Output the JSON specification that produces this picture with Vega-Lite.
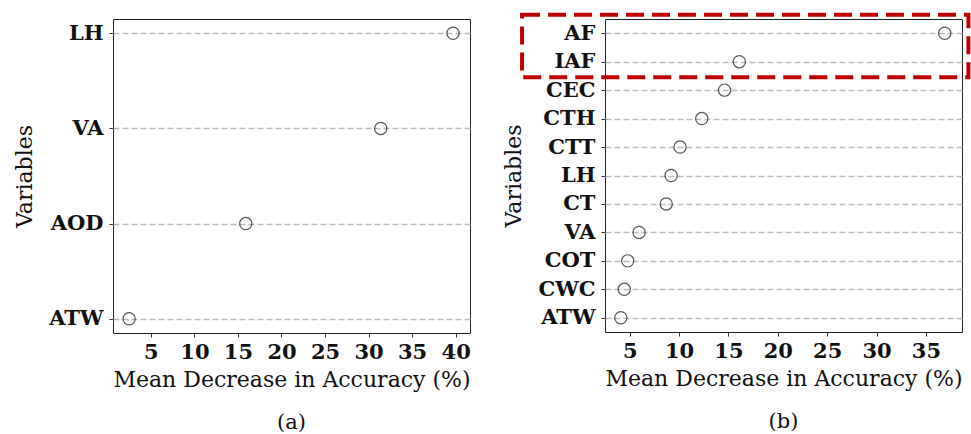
{
  "$schema": "https://vega.github.io/schema/vega-lite/v6.json",
  "background": "white",
  "padding": {"left": 13, "top": 12, "right": 0, "bottom": 0},
  "spacing": 31,
  "config": {
    "font": "DejaVu Serif",
    "view": {"stroke": "#222", "strokeWidth": 1},
    "axis": {
      "labelFont": "DejaVu Serif",
      "labelFontWeight": "bold",
      "labelFontSize": 21,
      "labelColor": "#111",
      "titleFont": "DejaVu Serif",
      "titleFontWeight": "normal",
      "titleFontSize": 22,
      "titleColor": "#111",
      "domain": false,
      "tickColor": "#333",
      "tickSize": 4
    },
    "title": {"font": "DejaVu Serif", "fontSize": 21, "fontWeight": "normal", "color": "#111"}
  },
  "hconcat": [
    {
      "width": 357,
      "height": 314,
      "title": {"text": "(a)", "orient": "bottom", "anchor": "middle", "offset": 22},
      "data": {
        "values": [
          {"variable": "LH", "mda": 39.7},
          {"variable": "VA", "mda": 31.4},
          {"variable": "AOD", "mda": 15.9},
          {"variable": "ATW", "mda": 2.5}
        ]
      },
      "mark": {"type": "point", "shape": "circle", "filled": false, "stroke": "#111", "strokeWidth": 1.2, "size": 150},
      "encoding": {
        "x": {
          "field": "mda",
          "type": "quantitative",
          "scale": {"domain": [0.65, 41.65], "nice": false, "zero": false},
          "axis": {"values": [5, 10, 15, 20, 25, 30, 35, 40], "grid": false, "labelPadding": 4, "titlePadding": 7, "title": "Mean Decrease in Accuracy (%)"}
        },
        "y": {
          "field": "variable",
          "type": "nominal",
          "scale": {"type": "point", "padding": 0.15, "domain": ["LH", "VA", "AOD", "ATW"]},
          "axis": {"grid": true, "gridDash": [6, 3], "gridColor": "#bdbdbd", "gridWidth": 1.3, "labelPadding": 6, "titlePadding": 12, "title": "Variables"}
        }
      }
    },
    {
      "width": 357,
      "height": 313,
      "title": {"text": "(b)", "orient": "bottom", "anchor": "middle", "offset": 22},
      "layer": [
        {
          "data": {
            "values": [
              {"variable": "AF", "mda": 36.9},
              {"variable": "IAF", "mda": 16.1},
              {"variable": "CEC", "mda": 14.6},
              {"variable": "CTH", "mda": 12.3},
              {"variable": "CTT", "mda": 10.1},
              {"variable": "LH", "mda": 9.2},
              {"variable": "CT", "mda": 8.7},
              {"variable": "VA", "mda": 5.95},
              {"variable": "COT", "mda": 4.8},
              {"variable": "CWC", "mda": 4.45},
              {"variable": "ATW", "mda": 4.1}
            ]
          },
          "mark": {"type": "point", "shape": "circle", "filled": false, "stroke": "#111", "strokeWidth": 1.2, "size": 150},
          "encoding": {
            "x": {
              "field": "mda",
              "type": "quantitative",
              "scale": {"domain": [2.5, 38.65], "nice": false, "zero": false},
              "axis": {"values": [5, 10, 15, 20, 25, 30, 35], "grid": false, "labelPadding": 4, "titlePadding": 7, "title": "Mean Decrease in Accuracy (%)"}
            },
            "y": {
              "field": "variable",
              "type": "nominal",
              "scale": {"type": "point", "padding": 0.5, "domain": ["AF", "IAF", "CEC", "CTH", "CTT", "LH", "CT", "VA", "COT", "CWC", "ATW"]},
              "axis": {"grid": true, "gridDash": [6, 3], "gridColor": "#bdbdbd", "gridWidth": 1.3, "labelPadding": 6, "titlePadding": 12, "title": "Variables"}
            }
          }
        },
        {
          "data": {"values": [{"first": "AF", "last": "IAF"}]},
          "mark": {
            "type": "rect",
            "fill": null,
            "stroke": "#c00000",
            "strokeWidth": 4,
            "strokeDash": [18, 8],
            "yOffset": -18.5,
            "y2Offset": 15.5
          },
          "encoding": {
            "x": {"datum": -5.9},
            "x2": {"datum": 39.3},
            "y": {"field": "first", "type": "nominal"},
            "y2": {"field": "last"}
          }
        }
      ]
    }
  ]
}
